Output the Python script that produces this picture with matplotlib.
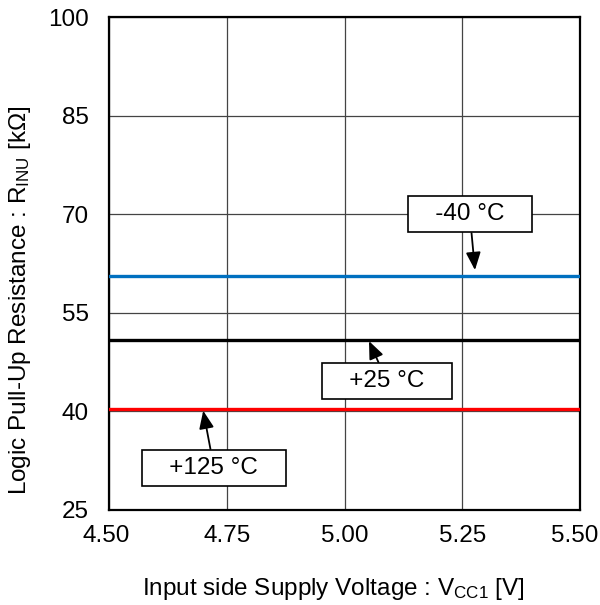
import matplotlib
matplotlib.use("Agg")
import matplotlib.pyplot as plt
import matplotlib.transforms as mtransforms

plt.rcParams['font.family'] = ['Liberation Sans', 'DejaVu Sans']
plt.rcParams['mathtext.default'] = 'regular'

# Data
voltage = [4.50, 5.50]
res_m40 = [60.6, 60.6]
res_25 = [50.8, 50.8]
res_125 = [40.4, 40.4]
x_ticks = [4.50, 4.75, 5.00, 5.25, 5.50]
x_tick_labels = ["4.50", "4.75", "5.00", "5.25", "5.50"]
y_ticks = [25, 40, 55, 70, 85, 100]

labels = ["-40 °C", "+25 °C", "+125 °C"]
label_pos = [(5.266, 70.0), (5.090, 44.6), (4.723, 31.4)]
arrow_tip = [(5.277, 61.5), (5.052, 50.7), (4.700, 40.1)]

FS = 17.5

fig = plt.figure(figsize=(6.0, 6.05), dpi=100)
ax = fig.add_axes([109/600, 1 - 510/605, 471/600, 493/605])

ax.plot(voltage, res_m40, color='#0070C0', lw=2.4, zorder=3)
ax.plot(voltage, res_25, color='black', lw=2.4, zorder=3)
ax.plot(voltage, res_125, color='#FF0000', lw=2.4, zorder=3)

ax.set_xlim(4.5, 5.5)
ax.set_ylim(25, 100)
ax.set_xticks(x_ticks)
ax.set_xticklabels(x_tick_labels)
ax.set_yticks(y_ticks)
ax.tick_params(length=0, labelsize=FS)
ax.tick_params(axis='x', pad=10.5)
ax.tick_params(axis='y', pad=14.5)
ax.grid(True, color='#444444', lw=0.9)
ax.set_axisbelow(True)
for s in ax.spines.values():
    s.set_linewidth(1.6)
    s.set_color('black')

# shift outer x tick labels slightly inward so they fit the figure
offsets = {0: -3 / 100, len(x_ticks) - 1: -5 / 100}
for i, lbl in enumerate(ax.get_xticklabels()):
    if i in offsets:
        lbl.set_transform(lbl.get_transform() +
                          mtransforms.ScaledTranslation(offsets[i], 0, fig.dpi_scale_trans))

ax.set_xlabel("Input side Supply Voltage : V$_{CC1}$ [V]", fontsize=FS)
ax.set_ylabel("Logic Pull-Up Resistance : R$_{INU}$ [kΩ]", fontsize=FS)
ax.xaxis.set_label_coords((333 - 109) / 471, (510 - 576) / 493)
ax.yaxis.set_label_coords((33 - 109) / 471, (510 - 300) / 493)

for lab, pos, tip in zip(labels, label_pos, arrow_tip):
    ax.annotate("   " + lab + "   ", xy=tip, xytext=pos, fontsize=FS,
                ha='center', va='center', zorder=5,
                bbox=dict(boxstyle='square,pad=0.3', fc='white', ec='black', lw=1.2),
                arrowprops=dict(arrowstyle='-|>,head_length=0.6,head_width=0.25',
                                mutation_scale=18, color='black', lw=1.3,
                                shrinkA=0, shrinkB=0))

fig.savefig("out.png", dpi=100)
